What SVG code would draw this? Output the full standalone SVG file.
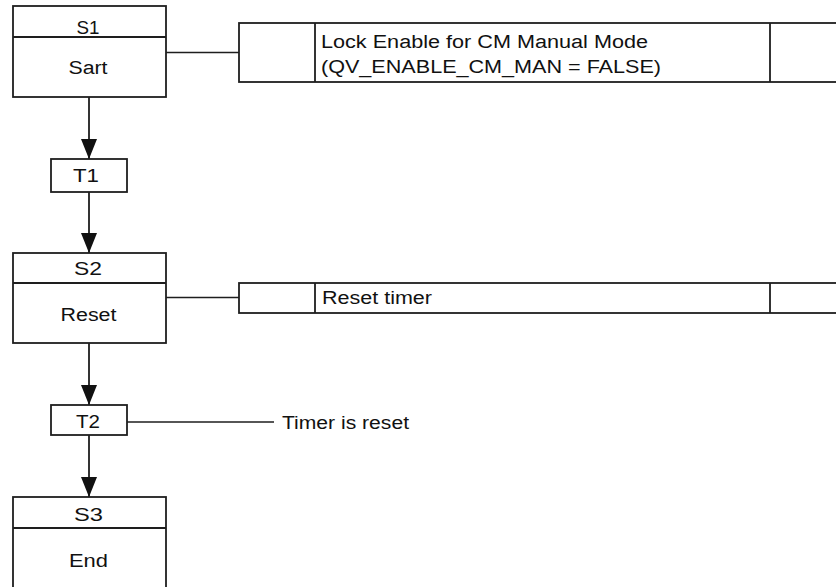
<svg xmlns="http://www.w3.org/2000/svg" width="836" height="587" viewBox="0 0 836 587">
  <style>
    .box { fill: #ffffff; stroke: #1e1e1e; stroke-width: 1.8; }
    .ln { stroke: #1e1e1e; stroke-width: 1.8; fill: none; }
    .thin { stroke: #1e1e1e; stroke-width: 1.5; fill: none; }
    text { font-family: "Liberation Sans", Arial, sans-serif; font-size: 18px; fill: #111111; }
    .c { text-anchor: middle; }
  </style>
  <defs>
    <marker id="arr" viewBox="0 0 20 16" refX="20" refY="8" markerWidth="20" markerHeight="16" markerUnits="userSpaceOnUse" orient="auto">
      <path d="M0,0 L20,8 L0,16 Z" fill="#111111"/>
    </marker>
  </defs>
  <rect width="836" height="587" fill="#ffffff"/>

  <g id="connectors">
    <line class="ln" x1="89" y1="97" x2="89" y2="159" marker-end="url(#arr)"/>
    <line class="ln" x1="89" y1="192" x2="89" y2="253" marker-end="url(#arr)"/>
    <line class="ln" x1="89" y1="343" x2="89" y2="405" marker-end="url(#arr)"/>
    <line class="ln" x1="89" y1="435" x2="89" y2="497" marker-end="url(#arr)"/>
    <line class="thin" x1="162" y1="52.5" x2="239" y2="52.5"/>
    <line class="thin" x1="162" y1="297.5" x2="239" y2="297.5"/>
    <line class="thin" x1="127" y1="422" x2="274" y2="422"/>
  </g>

  <g id="S1">
    <rect class="box" x="13" y="6" width="153" height="91"/>
    <line class="ln" x1="13" y1="37" x2="166" y2="37"/>
    <text class="c" x="88" y="33.5" textLength="23" lengthAdjust="spacingAndGlyphs">S1</text>
    <text class="c" x="88" y="73.5" textLength="39" lengthAdjust="spacingAndGlyphs">Sart</text>
  </g>

  <g id="A1">
    <rect class="box" x="239" y="23" width="620" height="59"/>
    <line class="ln" x1="315" y1="23" x2="315" y2="82"/>
    <line class="ln" x1="770" y1="23" x2="770" y2="82"/>
    <text x="321" y="47.5" textLength="327" lengthAdjust="spacingAndGlyphs">Lock Enable for CM Manual Mode</text>
    <text x="321" y="72.5" textLength="340" lengthAdjust="spacingAndGlyphs">(QV_ENABLE_CM_MAN = FALSE)</text>
  </g>

  <g id="T1">
    <rect class="box" x="51" y="159" width="76" height="33"/>
    <text class="c" x="86" y="182" textLength="26" lengthAdjust="spacingAndGlyphs">T1</text>
  </g>

  <g id="S2">
    <rect class="box" x="13" y="253" width="153" height="90"/>
    <line class="ln" x1="13" y1="283" x2="166" y2="283"/>
    <text class="c" x="88" y="275" textLength="28" lengthAdjust="spacingAndGlyphs">S2</text>
    <text class="c" x="88.5" y="320.5" textLength="56" lengthAdjust="spacingAndGlyphs">Reset</text>
  </g>

  <g id="A2">
    <rect class="box" x="239" y="283" width="620" height="30"/>
    <line class="ln" x1="315" y1="283" x2="315" y2="313"/>
    <line class="ln" x1="770" y1="283" x2="770" y2="313"/>
    <text x="322" y="304" textLength="110" lengthAdjust="spacingAndGlyphs">Reset timer</text>
  </g>

  <g id="T2">
    <rect class="box" x="51" y="405" width="76" height="30"/>
    <text class="c" x="88" y="428" textLength="24" lengthAdjust="spacingAndGlyphs">T2</text>
  </g>

  <g id="T2label">
    <text x="282" y="428.5" textLength="127" lengthAdjust="spacingAndGlyphs">Timer is reset</text>
  </g>

  <g id="S3">
    <rect class="box" x="13" y="497" width="153" height="110"/>
    <line class="ln" x1="13" y1="528" x2="166" y2="528"/>
    <text class="c" x="88.5" y="521" textLength="29" lengthAdjust="spacingAndGlyphs">S3</text>
    <text class="c" x="88.5" y="566.5" textLength="39" lengthAdjust="spacingAndGlyphs">End</text>
  </g>
</svg>
